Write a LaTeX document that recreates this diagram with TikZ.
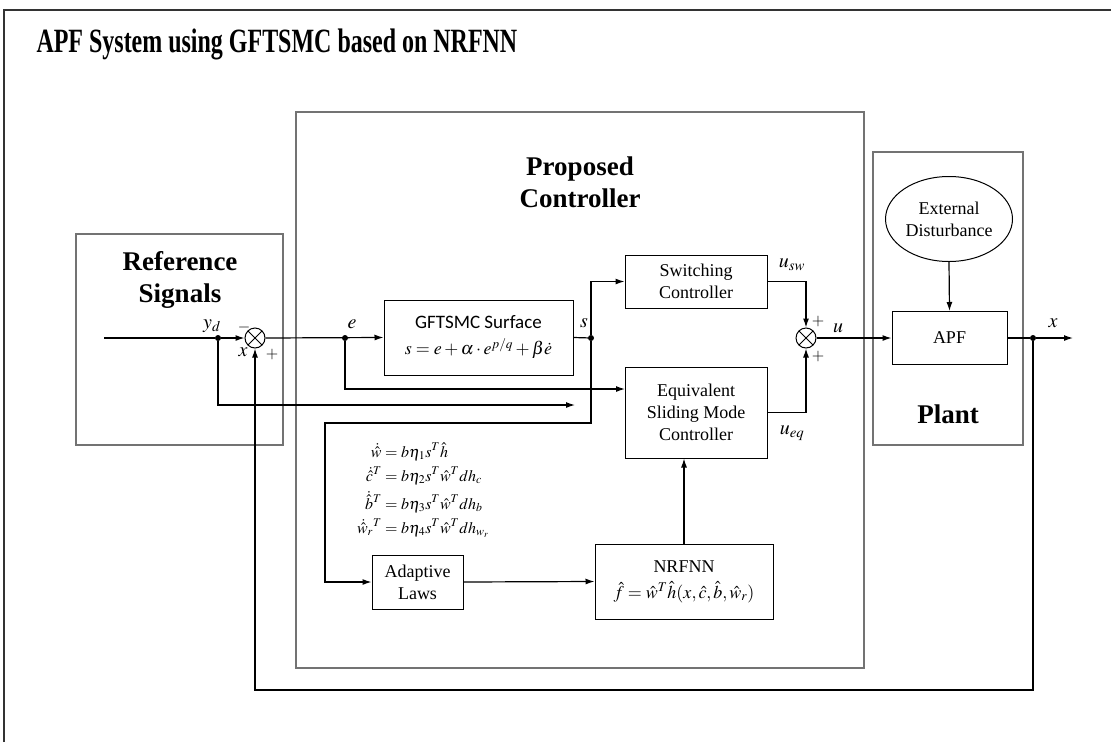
\documentclass[tikz,border=0pt]{standalone}
\usepackage{amsmath}
\usepackage{mathptmx}
\usepackage{fontspec}
\setmainfont{Liberation Serif}
\newfontfamily\surffont{Carlito}
\usetikzlibrary{arrows.meta,positioning,shapes.geometric}

\begin{document}
\begin{tikzpicture}[x=1pt, y=-1pt, >={Latex[length=9pt,width=6pt]}]
                    \tikzset{blockbox/.style={draw, line width=1pt, align=center, inner sep=0pt, font=\fontsize{18}{22}\selectfont}}
                    \tikzset{groupbox/.style={draw=black!55, line width=1.2pt, inner sep=0pt}}
                    \tikzset{grouplabel/.style={align=center, font=\fontsize{27}{32}\selectfont\bfseries}}
                    \tikzset{sumnode/.style={draw, circle, line width=1pt, minimum size=20pt, inner sep=0pt,
                        path picture={\draw[line width=1pt] (path picture bounding box.north west) -- (path picture bounding box.south east)
                                      (path picture bounding box.north east) -- (path picture bounding box.south west);}}}
                    \tikzset{joint/.style={circle, fill, inner sep=0pt, minimum size=6pt}}
                    \tikzset{sig/.style={font=\fontsize{20}{20}\selectfont}}
                    \tikzset{sgn/.style={font=\fontsize{16}{16}\selectfont}}
                    \tikzset{wire/.style={line width=1.2pt}}
                    \useasboundingbox (0,0) rectangle (1111,742);
                    % frame and title
                    \draw[black!80, line width=2.5pt] (4,742) -- (4,10) -- (1111,10);
                    \node[anchor=west, font=\fontsize{34}{38}\selectfont\bfseries] (title) at (33,44)
                        {\scalebox{0.705}[1]{APF System using GFTSMC based on NRFNN}};
                    % groups
                    \node[groupbox, minimum width=207, minimum height=211] (refgrp) at (179.5,339.5) {};
                    \node[grouplabel] (reflabel) at (180,280) {Reference\\Signals};
                    \node[groupbox, minimum width=568, minimum height=556] (ctrlgrp) at (580,390) {};
                    \node[grouplabel] (ctrllabel) at (580,182) {Proposed\\Controller};
                    \node[groupbox, minimum width=150, minimum height=293] (plantgrp) at (948,298.5) {};
                    \node[grouplabel] (plantlabel) at (948,414) {Plant};
                    % blocks
                    \node[blockbox, font=\surffont\fontsize{19}{23}\selectfont, minimum width=189, minimum height=75] (surf) at (478.5,337.5)
                        {GFTSMC Surface\\[3pt] {\fontsize{18}{18}\selectfont $s=e+\alpha\cdot e^{p/q}+\beta\dot{e}$}};
                    \node[blockbox, minimum width=142, minimum height=53] (switch) at (696,281.5) {Switching\\Controller};
                    \node[blockbox, minimum width=142, minimum height=91] (equiv) at (696,412.5) {Equivalent\\Sliding Mode\\Controller};
                    \node[blockbox, minimum width=91, minimum height=54] (adapt) at (417.5,582) {Adaptive\\Laws};
                    \node[blockbox, minimum width=178, minimum height=75] (nrfnn) at (684,581.5)
                        {NRFNN\\[4pt] $\hat{f}=\hat{w}^T\hat{h}(x,\hat{c},\hat{b},\hat{w}_r)$};
                    \node[blockbox, minimum width=115, minimum height=53] (apf) at (949.5,338) {APF};
                    \node[blockbox, ellipse, minimum width=127, minimum height=85] (dist) at (949,219) {External\\Disturbance};
                    \node[sumnode] (sumin) at (255,338) {};
                    \node[sumnode] (sumout) at (806,338) {};
                    % adaptive laws
                    \node[font=\fontsize{16}{21}\selectfont] (laws) at (423,491)
                        {$\begin{aligned}
                            \dot{\hat{w}} &= b\eta_1 s^T\hat{h}\\
                            \dot{\hat{c}}^T &= b\eta_2 s^T\hat{w}^T dh_c\\
                            \dot{\hat{b}}^T &= b\eta_3 s^T\hat{w}^T dh_b\\
                            \dot{\hat{w}}_r{}^T &= b\eta_4 s^T\hat{w}^T dh_{w_r}
                          \end{aligned}$};
                    % branch points
                    \node[joint] (ydpt) at (218,338) {};
                    \node[joint] (ept) at (345,338) {};
                    \node[joint] (spt) at (591,338) {};
                    \node[joint] (xpt) at (1033,338) {};
                    \coordinate (ydin) at (104,338);
                    \coordinate (xout) at (1073,338);
                    \coordinate (ydend) at (575,405);
                    \coordinate (eqin) at (625,389);
                    \coordinate (sdown) at (325,423);
                    \coordinate (fbbot) at (255,690);
                    % wires
                    \draw[wire,->] (ydin) -- (ydpt) -- (sumin.west);
                    \draw[wire,->] (sumin.east) -- (surf.west);
                    \draw[wire] (surf.east) -- (spt);
                    \draw[wire,->] (spt) |- (switch.west);
                    \draw[wire,->] (spt) |- (sdown) |- (adapt.west);
                    \draw[wire,->] (ept) |- (eqin);
                    \draw[wire,->] (ydpt) |- (ydend);
                    \draw[wire,->] (adapt.east) -- (nrfnn.west);
                    \draw[wire,->] (nrfnn.north) -- (nrfnn.north |- equiv.south);
                    \draw[wire,->] (switch.east) -| (sumout.north);
                    \draw[wire,->] (equiv.east) -| (sumout.south);
                    \draw[wire,->] (sumout.east) -- (apf.west);
                    \draw[wire,->] (dist.south) -- (apf.north);
                    \draw[wire] (apf.east) -- (xpt);
                    \draw[wire,->] (xpt) -- (xout);
                    \draw[wire,->] (xpt) |- (fbbot) -- (sumin.south);
                    % signal names
                    \node[sig] (ydlab) at (212,326) {$y_d$};
                    \node[sgn] (minus) at (244,327) {$-$};
                    \node[sig] (xinlab) at (243,352) {$x$};
                    \node[sgn] (plusin) at (272,354) {$+$};
                    \node[sig] (elab) at (352,324) {$e$};
                    \node[sig] (slab) at (584,323) {$s$};
                    \node[sig] (uswlab) at (792,265) {$u_{sw}$};
                    \node[sgn] (plustop) at (818,321) {$+$};
                    \node[sgn] (plusbot) at (818,356) {$+$};
                    \node[sig] (ulab) at (838,328) {$u$};
                    \node[sig] (ueqlab) at (792,433) {$u_{eq}$};
                    \node[sig] (xlab) at (1053,323) {$x$};
\end{tikzpicture}
\end{document}
